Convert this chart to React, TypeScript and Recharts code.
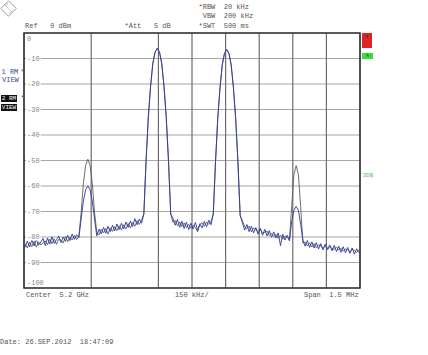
import React from "react";
import { CartesianGrid, Line, LineChart, ReferenceArea, XAxis, YAxis } from "recharts";

// sweep: 150 points, 10 kHz apart, offsets from the 5.2 GHz centre
const SWEEP_START_KHZ = -745;
const SWEEP_STEP_KHZ = 10;

// trace 1 (blue, RM view), dBm
const trace1Db = [
  -84.1, -81.6, -83.9, -81.2, -83.5, -80.9, -83.2, -82.0, -80.6, -83.4,
  -80.4, -82.8, -79.9, -82.5, -81.1, -79.6, -82.2, -80.0, -81.7, -79.3,
  -81.4, -78.8, -80.9, -79.1, -80.3, -73.0, -66.0, -61.5, -60.0, -61.5,
  -66.0, -73.0, -79.6, -76.9, -78.8, -76.2, -78.5, -75.8, -77.9, -75.4,
  -77.6, -74.9, -77.1, -74.6, -76.8, -74.1, -76.2, -73.7, -75.9, -72.8,
  -75.2, -73.0, -74.6, -71.0, -50.0, -33.0, -21.0, -12.0, -7.5, -6.0,
  -7.5, -12.0, -21.0, -33.0, -50.0, -71.0, -72.6, -75.4, -73.1, -76.2,
  -73.8, -76.7, -74.2, -77.1, -74.6, -76.9, -74.3, -77.4, -74.8, -76.5,
  -73.9, -76.0, -73.4, -75.2, -71.0, -50.5, -33.5, -21.5, -12.5, -8.0,
  -6.5, -8.0, -12.5, -21.5, -33.5, -50.5, -71.5, -74.4, -77.3, -75.1,
  -77.9, -75.8, -78.4, -76.3, -78.9, -76.6, -79.3, -77.0, -79.6, -77.5,
  -80.1, -78.0, -80.4, -78.4, -83.4, -78.9, -81.2, -79.3, -81.5, -74.0,
  -69.5, -68.0, -69.5, -75.0, -81.2, -83.6, -81.4, -84.1, -81.9, -84.3,
  -82.2, -84.7, -82.6, -85.0, -82.8, -84.6, -83.1, -85.4, -83.3, -85.7,
  -83.6, -86.0, -83.8, -86.2, -84.1, -86.4, -84.3, -86.7, -84.6, -86.1,
];

// trace 2 (black, RM view), dBm
const trace2Db = [
  -82.7, -84.3, -82.1, -83.8, -81.7, -84.0, -81.9, -83.1, -82.4, -81.5,
  -83.0, -80.8, -82.6, -80.7, -82.9, -80.9, -81.3, -82.4, -79.8, -81.9,
  -80.1, -81.2, -79.4, -81.0, -79.7, -70.5, -59.0, -52.0, -49.5, -52.0,
  -59.0, -70.5, -78.1, -79.2, -77.0, -78.4, -76.6, -78.9, -76.4, -77.8,
  -75.9, -77.5, -75.6, -77.3, -75.2, -76.9, -74.7, -76.5, -74.3, -75.8,
  -73.6, -75.1, -73.2, -71.0, -50.0, -33.0, -21.0, -12.0, -7.5, -6.0,
  -7.5, -12.0, -21.0, -33.0, -50.0, -71.0, -74.3, -73.5, -75.6, -74.1,
  -75.9, -74.5, -76.3, -75.0, -76.6, -75.4, -76.2, -78.0, -75.1, -74.4,
  -75.8, -74.2, -75.0, -73.8, -71.0, -50.5, -33.5, -21.5, -12.5, -8.0,
  -6.5, -8.0, -12.5, -21.5, -33.5, -50.5, -71.5, -73.6, -75.9, -76.8,
  -75.7, -78.0, -76.4, -77.2, -77.8, -76.9, -78.6, -78.1, -77.7, -79.4,
  -78.6, -79.8, -79.0, -80.5, -79.3, -80.9, -79.6, -80.2, -81.0, -68.0,
  -55.5, -52.0, -55.5, -68.0, -82.4, -82.0, -83.5, -82.3, -83.9, -82.6,
  -84.2, -83.0, -83.6, -84.4, -83.2, -85.1, -83.8, -84.5, -84.9, -83.9,
  -85.2, -84.4, -85.6, -84.7, -85.0, -85.9, -84.8, -85.3, -86.1, -85.0,
];

const freqTicksKHz = [-750, -600, -450, -300, -150, 0, 150, 300, 450, 600, 750];
const levelTicksDb = [0, -10, -20, -30, -40, -50, -60, -70, -80, -90, -100];

const rows = trace1Db.map((t1, i) => ({
  f: SWEEP_START_KHZ + i * SWEEP_STEP_KHZ,
  t1,
  t2: trace2Db[i],
}));

const MONO = "'Liberation Mono', 'DejaVu Sans Mono', monospace";

function LevelTick(props: any) {
  const { x, y, payload } = props;
  const v = payload.value as number;
  const label = String(v);
  // top and bottom labels sit inside the frame
  const cy = v === 0 ? y + 6 : v === -100 ? y - 5 : y;
  const w = label.length * 4.2 + 2;
  return (
    <g>
      <rect x={x + 2} y={cy - 3.5} width={w} height={7} fill="#fff" />
      <text
        x={x + 3}
        y={cy + 2.4}
        fill="#858585"
        fontSize={7}
        fontFamily={MONO}
        textAnchor="start"
      >
        {label}
      </text>
    </g>
  );
}

function Txt({ x, y, children, color = "#555", size = 7 }: any) {
  return (
    <span
      style={{
        position: "absolute",
        left: x,
        top: y - 4,
        lineHeight: "8px",
        fontSize: size,
        fontFamily: MONO,
        color,
        whiteSpace: "pre",
      }}
    >
      {children}
    </span>
  );
}

function BoxTxt({ x, y, w, h, children }: any) {
  return (
    <span
      style={{
        position: "absolute",
        left: x,
        top: y,
        width: w,
        height: h,
        lineHeight: `${h}px`,
        background: "#111",
        color: "#fff",
        fontSize: 6,
        fontFamily: MONO,
        textAlign: "center",
        whiteSpace: "pre",
      }}
    >
      {children}
    </span>
  );
}

export default function App() {
  return (
    <div
      style={{
        position: "absolute",
        left: 0,
        top: 0,
        width: 428,
        height: 355,
        background: "#fff",
        overflow: "hidden",
      }}
    >
      <LineChart
        width={428}
        height={355}
        data={rows}
        margin={{ top: 33, right: 68, bottom: 67, left: 24 }}
      >
        <CartesianGrid vertical={false} stroke="#a6a6a6" strokeWidth={1.2} />
        <CartesianGrid horizontal={false} stroke="#6c6c6c" strokeWidth={1.2} />
        <XAxis
          dataKey="f"
          type="number"
          domain={[-750, 750]}
          ticks={freqTicksKHz}
          hide
        />
        <YAxis
          type="number"
          domain={[-100, 0]}
          ticks={levelTicksDb}
          mirror
          axisLine={false}
          tickLine={false}
          tickSize={0}
          tickMargin={0}
          tick={(p: any) => <LevelTick {...p} />}
          interval={0}
        />
        <Line
          dataKey="t2"
          type="linear"
          stroke="#5e5e5e"
          strokeWidth={0.9}
          dot={false}
          isAnimationActive={false}
        />
        <Line
          dataKey="t1"
          type="linear"
          stroke="#2d3a9c"
          strokeWidth={0.9}
          dot={false}
          isAnimationActive={false}
        />
        <ReferenceArea
          x1={-750}
          x2={750}
          y1={-100}
          y2={0}
          fill="none"
          fillOpacity={0}
          stroke="#333"
          strokeWidth={1.5}
          strokeOpacity={1}
        />
      </LineChart>

      {/* logo */}
      <svg
        width={18}
        height={18}
        style={{ position: "absolute", left: 0, top: 0 }}
      >
        <polygon points="8.5,0.8 16.2,8.5 8.5,16.2 0.8,8.5" fill="none" stroke="#9a9a9a" strokeWidth={1} />
        <line x1={5} y1={6} x2={8} y2={3.5} stroke="#aaa" strokeWidth={0.8} />
        <line x1={9} y1={13.5} x2={12} y2={11} stroke="#aaa" strokeWidth={0.8} />
        <line x1={4.5} y1={8.5} x2={12.5} y2={8.5} stroke="#bbb" strokeWidth={0.6} transform="rotate(45 8.5 8.5)" />
      </svg>

      {/* header */}
      <Txt x={25} y={26}>Ref   0 dBm</Txt>
      <Txt x={124.5} y={26}>*Att   5 dB</Txt>
      <Txt x={198.5} y={7}>*RBW  20 kHz</Txt>
      <Txt x={198.5} y={16}> VBW  200 kHz</Txt>
      <Txt x={198.5} y={26}>*SWT  500 ms</Txt>

      {/* trace labels */}
      <Txt x={1.5} y={72} color="#3b4aa8">1 RM</Txt>
      <Txt x={20.5} y={72} color="#555">*</Txt>
      <Txt x={2} y={80} color="#3b4aa8">VIEW</Txt>
      <BoxTxt x={1} y={95} w={16} h={7}>2 RM</BoxTxt>
      <Txt x={20.5} y={98} color="#555">*</Txt>
      <BoxTxt x={1} y={103.5} w={16} h={7}>VIEW</BoxTxt>

      {/* right side indicators */}
      <div
        style={{
          position: "absolute",
          left: 362,
          top: 33,
          width: 10,
          height: 15,
          background: "#d92525",
        }}
      >
        <span
          style={{
            position: "absolute",
            left: 3,
            top: 1,
            fontSize: 7,
            lineHeight: "8px",
            fontFamily: MONO,
            color: "#5a0a0a",
          }}
        >
          *
        </span>
      </div>
      <div
        style={{
          position: "absolute",
          left: 362,
          top: 53,
          width: 11,
          height: 6,
          background: "#3fd93f",
          fontSize: 5,
          lineHeight: "6px",
          textAlign: "center",
          color: "#1c6a1c",
          fontFamily: MONO,
        }}
      >
        A
      </div>
      <Txt x={362.5} y={176} color="#5cbf5c" size={6}>3DB</Txt>

      {/* footer */}
      <Txt x={26} y={295}>Center  5.2 GHz</Txt>
      <Txt x={175} y={295}>150 kHz/</Txt>
      <Txt x={304} y={295}>Span  1.5 MHz</Txt>
      <Txt x={0} y={342}>Date: 26.SEP.2012  18:47:09</Txt>
    </div>
  );
}
